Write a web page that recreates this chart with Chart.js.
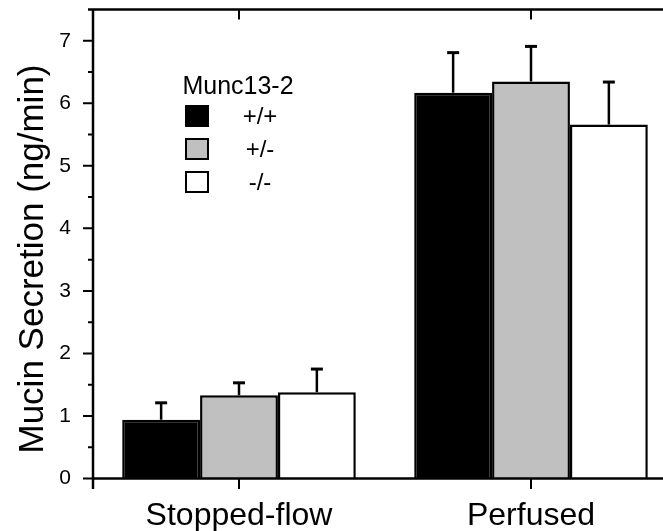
<!DOCTYPE html>
<html>
<head>
<meta charset="utf-8">
<script src="https://cdn.jsdelivr.net/npm/chart.js@4.4.1/dist/chart.umd.min.js"></script>
<style>
  html, body { margin: 0; padding: 0; background: #fff; overflow: hidden; }
  #wrap { width: 690px; height: 531px; }
</style>
</head>
<body>
<div id="wrap"><canvas id="c" width="690" height="531"></canvas></div>
<script>
// Mucin secretion by Munc13-2 genotype, mean + SEM
const categories = ['Stopped-flow', 'Perfused'];
const genotypes = ['+/+', '+/-', '-/-'];
const wildTypeMean = [0.94, 6.17];
const wildTypeSem = [0.27, 0.64];
const hetMean = [1.33, 6.35];
const hetSem = [0.20, 0.56];
const knockoutMean = [1.38, 5.66];
const knockoutSem = [0.37, 0.68];
const yTickValues = [0, 1, 2, 3, 4, 5, 6, 7];
const yMinorValues = [0.5, 1.5, 2.5, 3.5, 4.5, 5.5, 6.5];
const legendTitle = 'Munc13-2';
const yAxisTitle = 'Mucin Secretion (ng/min)';

const fills = ['#000000', '#c0c0c0', '#ffffff'];
const semByDataset = [wildTypeSem, hetSem, knockoutSem];
const FONT = 'Liberation Sans, Arial, Helvetica, sans-serif';
const INK = '#000';

// upward-only error bars on each bar
const errorBars = {
  id: 'errorBars',
  afterDatasetsDraw(chart) {
    const ctx = chart.ctx;
    const y = chart.scales.y;
    ctx.save();
    ctx.strokeStyle = INK;
    ctx.lineCap = 'butt';
    chart.data.datasets.forEach((ds, i) => {
      const meta = chart.getDatasetMeta(i);
      meta.data.forEach((bar, j) => {
        const v = ds.data[j];
        const top = y.getPixelForValue(v);
        const end = y.getPixelForValue(v + semByDataset[i][j]);
        ctx.lineWidth = 2.5;
        ctx.beginPath();
        ctx.moveTo(bar.x, top);
        ctx.lineTo(bar.x, end);
        ctx.stroke();
        ctx.lineWidth = 3;
        ctx.beginPath();
        ctx.moveTo(bar.x - 6, end);
        ctx.lineTo(bar.x + 6, end);
        ctx.stroke();
      });
    });
    ctx.restore();
  }
};

// axis frame with outward/inward tick marks
const frame = {
  id: 'frame',
  afterDraw(chart) {
    const ctx = chart.ctx;
    const a = chart.chartArea;
    const x = chart.scales.x;
    const y = chart.scales.y;
    ctx.save();
    ctx.strokeStyle = INK;
    ctx.lineWidth = 2.5;
    ctx.lineCap = 'butt';
    ctx.beginPath();
    // left axis, extends below the baseline
    ctx.moveTo(a.left, a.top - 1.2);
    ctx.lineTo(a.left, a.bottom + 10.5);
    // bottom axis
    ctx.moveTo(a.left, a.bottom);
    ctx.lineTo(a.right, a.bottom);
    // top border
    ctx.moveTo(a.left - 5, a.top);
    ctx.lineTo(a.right, a.top);
    // right border
    ctx.moveTo(a.right, a.top);
    ctx.lineTo(a.right, a.bottom);
    ctx.stroke();

    ctx.lineWidth = 2;
    ctx.beginPath();
    yTickValues.forEach(v => {
      const py = y.getPixelForValue(v);
      ctx.moveTo(a.left - 10, py);
      ctx.lineTo(a.left, py);
    });
    yMinorValues.forEach(v => {
      const py = y.getPixelForValue(v);
      ctx.moveTo(a.left - 5, py);
      ctx.lineTo(a.left, py);
    });
    categories.forEach((c, i) => {
      const px = x.getPixelForValue(i);
      ctx.moveTo(px, a.bottom);
      ctx.lineTo(px, a.bottom + 10.5);
      ctx.moveTo(px, a.top);
      ctx.lineTo(px, a.top + 10);
    });
    ctx.stroke();

    // vertical axis title
    ctx.fillStyle = INK;
    ctx.font = '35px ' + FONT;
    ctx.textAlign = 'center';
    ctx.textBaseline = 'alphabetic';
    ctx.translate(43, 259);
    ctx.rotate(-Math.PI / 2);
    ctx.fillText(yAxisTitle, 0, 0);
    ctx.restore();
  }
};

// in-plot legend: title plus one swatch per genotype
const genotypeLegend = {
  id: 'genotypeLegend',
  afterDraw(chart) {
    const ctx = chart.ctx;
    ctx.save();
    ctx.fillStyle = INK;
    ctx.textAlign = 'center';
    ctx.textBaseline = 'alphabetic';
    ctx.font = '25px ' + FONT;
    ctx.fillText(legendTitle, 238, 93.5);
    const rows = [116, 149, 182];
    ctx.font = '24px ' + FONT;
    ctx.textBaseline = 'middle';
    chart.data.datasets.forEach((ds, i) => {
      const cy = rows[i];
      ctx.fillStyle = ds.backgroundColor;
      ctx.fillRect(186, cy - 10, 22, 20);
      ctx.strokeStyle = INK;
      ctx.lineWidth = 2;
      ctx.strokeRect(186, cy - 10, 22, 20);
      ctx.fillStyle = INK;
      ctx.fillText(ds.label, 260, cy + 1);
    });
    ctx.restore();
  }
};

function noScalePadding(s) {
  s.paddingTop = 0;
  s.paddingBottom = 0;
  s.paddingLeft = 0;
  s.paddingRight = 0;
}

new Chart(document.getElementById('c'), {
  type: 'bar',
  data: {
    labels: categories,
    datasets: [
      { label: genotypes[0], data: wildTypeMean, backgroundColor: fills[0] },
      { label: genotypes[1], data: hetMean, backgroundColor: fills[1] },
      { label: genotypes[2], data: knockoutMean, backgroundColor: fills[2] }
    ].map(d => Object.assign(d, {
      borderColor: INK,
      borderWidth: 2.5,
      borderSkipped: 'bottom',
      categoryPercentage: 0.8,
      barPercentage: 1.0
    }))
  },
  options: {
    responsive: false,
    animation: false,
    devicePixelRatio: 1,
    layout: { padding: { top: 9.5, right: 13, left: 0, bottom: 0 } },
    plugins: { legend: { display: false }, tooltip: { enabled: false } },
    scales: {
      x: {
        grid: { display: false },
        border: { display: false },
        ticks: {
          color: INK,
          font: { family: FONT, size: 32 },
          padding: 10,
          maxRotation: 0,
          autoSkip: false
        },
        afterFit(s) { s.height = 52.5; noScalePadding(s); }
      },
      y: {
        min: 0,
        max: 7.5,
        grid: { display: false },
        border: { display: false },
        afterBuildTicks(s) { s.ticks = yTickValues.map(v => ({ value: v })); },
        ticks: {
          color: INK,
          font: { family: FONT, size: 21 },
          padding: 14
        },
        afterFit(s) { s.width = 93; noScalePadding(s); }
      }
    }
  },
  plugins: [errorBars, frame, genotypeLegend]
});
</script>
</body>
</html>
